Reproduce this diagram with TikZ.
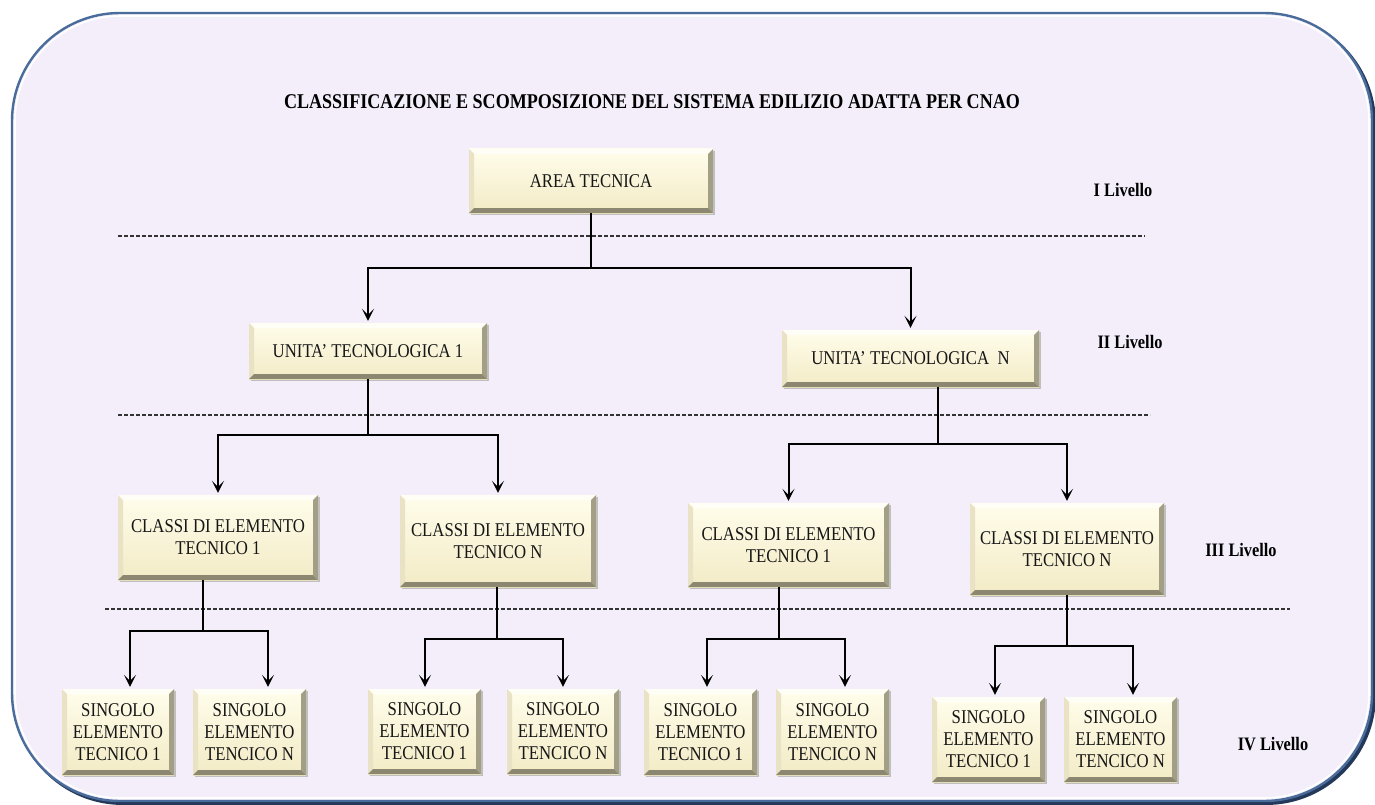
\documentclass[tikz,border=0pt]{standalone}
\usepackage{fontspec}
\setmainfont[FakeStretch=0.86]{Liberation Serif}
\usetikzlibrary{arrows.meta}

\definecolor{panelfill}{HTML}{F3EEFA}
\definecolor{panelline}{HTML}{4A6C9B}
\definecolor{panelshadow}{HTML}{24385A}
\definecolor{facetop}{HTML}{FFFDEB}
\definecolor{facebot}{HTML}{F3EBC6}
\definecolor{bevT}{HTML}{FFFEF6}
\definecolor{bevL}{HTML}{E9E2C4}
\definecolor{bevR}{HTML}{A39E86}
\definecolor{bevB}{HTML}{8C8770}
\definecolor{inktext}{HTML}{161616}

\tikzset{
  boxface/.style={top color=facetop, bottom color=facebot},
  boxtext/.style={rectangle, inner sep=0pt, align=center, text=inktext,
                  font=\fontsize{19.5}{22}\selectfont},
  link/.style={line width=2pt, draw=black},
  arr/.style={link, -{Stealth[length=12pt,width=12pt,inset=6pt]}, shorten >=2pt},
  levelsep/.style={line width=1.2pt, draw=black!80, dash pattern=on 4pt off 2pt},
  levellabel/.style={font=\fontsize{19}{22}\selectfont\bfseries, text=black},
}

% bevelled box: name, x1, y1, x2, y2, text
\newcommand{\bevelbox}[6]{%
  \fill[black!25] (#2+2,#3+2) rectangle (#4+2,#5+2);
  \shade[boxface] (#2,#3) rectangle (#4,#5);
  \fill[bevT] (#2,#3) -- (#4,#3) -- (#4-5,#3+5) -- (#2+5,#3+5) -- cycle;
  \fill[bevL] (#2,#3) -- (#2+5,#3+5) -- (#2+5,#5-5) -- (#2,#5) -- cycle;
  \fill[bevR] (#4,#3) -- (#4,#5) -- (#4-5,#5-5) -- (#4-5,#3+5) -- cycle;
  \fill[bevB] (#2,#5) -- (#4,#5) -- (#4-5,#5-5) -- (#2+5,#5-5) -- cycle;
  \node[boxtext, minimum width={#4-#2}, minimum height={#5-#3}]
       (#1) at ({(#2+#4)/2},{(#3+#5)/2}) {#6};
}

\begin{document}
\begin{tikzpicture}[x=1pt, y=-1pt]
\useasboundingbox (0,0) rectangle (1375,805);

% panel
\draw[panelshadow, line width=4pt, rounded corners=108pt] (15,16) rectangle (1374,803);
\draw[panelline, fill=panelfill, line width=2.4pt, rounded corners=108pt] (12,13) rectangle (1372,801);
\draw[white, line width=1.6pt, rounded corners=105pt] (15,16) rectangle (1369,798);

% title
\node[font=\fontsize{21}{24}\selectfont\bfseries] (title) at (652,102)
  {CLASSIFICAZIONE E SCOMPOSIZIONE DEL SISTEMA EDILIZIO ADATTA PER CNAO};

% level separators
\draw[levelsep] (118,236) -- (1145,236);
\draw[levelsep] (118,415) -- (1150,415);
\draw[levelsep] (105,609) -- (1290,609);

% level labels
\node[levellabel] (lv1) at (1123,190) {I Livello};
\node[levellabel] (lv2) at (1130,342) {II Livello};
\node[levellabel] (lv3) at (1241,550) {III Livello};
\node[levellabel] (lv4) at (1273,744) {IV Livello};

% level I
\bevelbox{area}{469}{149}{713}{213}{AREA TECNICA}

% level II
\bevelbox{u1}{249}{323}{487}{379}{UNITA’ TECNOLOGICA 1}
\bevelbox{un}{782}{330}{1039}{387}{UNITA’ TECNOLOGICA\ \ N}

% level III
\bevelbox{cL1}{118}{495}{318}{580}{CLASSI DI ELEMENTO\\TECNICO 1}
\bevelbox{cLN}{400}{495}{596}{587}{CLASSI DI ELEMENTO\\TECNICO N}
\bevelbox{cR1}{688}{503}{889}{587}{CLASSI DI ELEMENTO\\TECNICO 1}
\bevelbox{cRN}{970}{503}{1164}{595}{CLASSI DI ELEMENTO\\TECNICO N}

% level IV
\bevelbox{s11}{62}{689}{174}{775}{SINGOLO\\ELEMENTO\\TECNICO 1}
\bevelbox{s1n}{193}{689}{306}{775}{SINGOLO\\ELEMENTO\\TENCICO N}
\bevelbox{s21}{368}{689}{481}{774}{SINGOLO\\ELEMENTO\\TECNICO 1}
\bevelbox{s2n}{507}{689}{619}{774}{SINGOLO\\ELEMENTO\\TENCICO N}
\bevelbox{s31}{644}{689}{757}{775}{SINGOLO\\ELEMENTO\\TECNICO 1}
\bevelbox{s3n}{776}{689}{889}{775}{SINGOLO\\ELEMENTO\\TENCICO N}
\bevelbox{s41}{932}{697}{1045}{782}{SINGOLO\\ELEMENTO\\TECNICO 1}
\bevelbox{s4n}{1064}{697}{1177}{782}{SINGOLO\\ELEMENTO\\TENCICO N}

% connectors I -> II
\draw[link] (area.south) -- (591,268);
\draw[arr] (591,268) -| (u1.north);
\draw[arr] (591,268) -| (un.north);

% connectors II -> III
\draw[link] (u1.south) -- (368,435);
\draw[arr] (368,435) -| (cL1.north);
\draw[arr] (368,435) -| (cLN.north);
\draw[link] (un.south -| 938,0) -- (938,444);
\draw[arr] (938,444) -| (cR1.north);
\draw[arr] (938,444) -| (cRN.north);

% connectors III -> IV
\draw[link] (cL1.south -| 203,0) -- (203,631);
\draw[arr] (203,631) -| (s11.north -| 130,0);
\draw[arr] (203,631) -| (s1n.north -| 268,0);
\draw[link] (cLN.south -| 497,0) -- (497,639);
\draw[arr] (497,639) -| (s21.north -| 425,0);
\draw[arr] (497,639) -| (s2n.north -| 563,0);
\draw[link] (cR1.south -| 779,0) -- (779,639);
\draw[arr] (779,639) -| (s31.north -| 707,0);
\draw[arr] (779,639) -| (s3n.north -| 845,0);
\draw[link] (cRN.south -| 1067,0) -- (1067,646);
\draw[arr] (1067,646) -| (s41.north -| 995,0);
\draw[arr] (1067,646) -| (s4n.north -| 1133,0);
\end{tikzpicture}
\end{document}
